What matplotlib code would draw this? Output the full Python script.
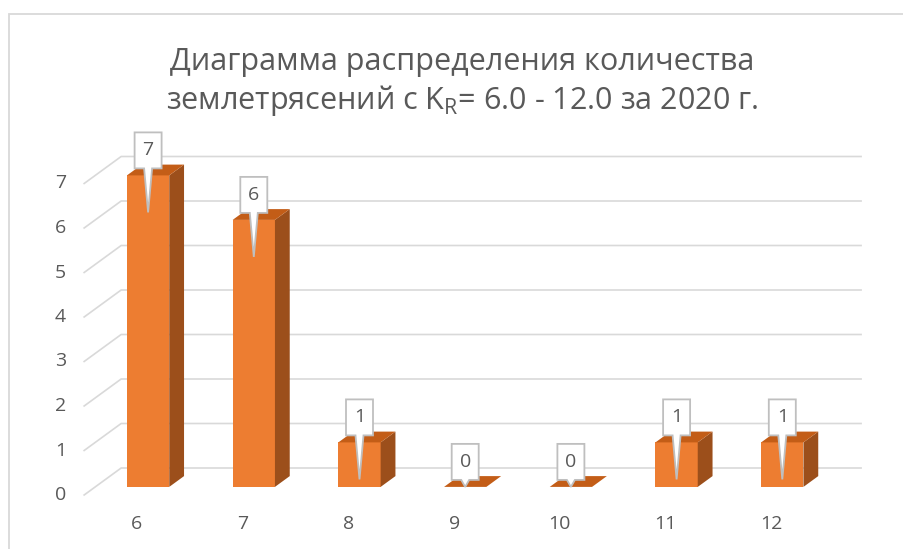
import matplotlib
matplotlib.use("Agg")
import matplotlib.pyplot as plt
from matplotlib.patches import Polygon, Rectangle

plt.rcParams['font.family'] = ['Open Sans', 'DejaVu Sans']
plt.rcParams['mathtext.fontset'] = 'custom'
plt.rcParams['mathtext.rm'] = 'Open Sans'

# Data
categories = ['6', '7', '8', '9', '10', '11', '12']
counts = [7, 6, 1, 0, 0, 1, 1]
y_ticks = [0, 1, 2, 3, 4, 5, 6, 7]
title_line1 = 'Диаграмма распределения количества'
title_line2 = r'землетрясений с $\mathrm{K_R}$= 6.0 - 12.0 за 2020 г.'

# Style
FRONT = '#ED7D31'
SIDE = '#9C4F1B'
TOP = '#C35D17'
GRID = '#D9D9D9'
TEXT = '#595959'

W, H = 904, 549
PX_X = 105.7   # pixels per category
PX_Y = 44.5    # pixels per unit
X0, Y0 = 137, 495  # pixel position of category 0 / value 0 (front plane)

DX = 37 / PX_X   # depth of the floor in x
DY = 27 / PX_Y   # depth of the floor in y
BAR_W = 0.40
BAR_D0, BAR_D1 = 0.3, 0.7  # bar position in depth


fig = plt.figure(figsize=(W / 100, H / 100), dpi=100)
ax = fig.add_axes([0, 0, 1, 1])
ax.set_xlim(-X0 / PX_X, (W - X0) / PX_X)
ax.set_ylim((Y0 - H) / PX_Y, Y0 / PX_Y)
ax.axis('off')

# chart frame
fig.patches.append(Rectangle((9 / W, -0.1), 1.2, 1.1 - 14 / H,
                             transform=fig.transFigure, fill=False,
                             edgecolor=GRID, linewidth=1.3))

# gridlines: front diagonal + back wall
left = -0.5
right = len(categories) - 0.5
for v in y_ticks:
    ax.plot([left, left + DX, right + DX], [v, v + DY, v + DY],
            color=GRID, linewidth=1.2, zorder=1)
    ax.text(left - 0.17, v, str(v), ha='right', va='center',
            fontsize=14, color=TEXT)

for i, c in enumerate(categories):
    ax.text(i, -0.65, c, ha='center', va='center', fontsize=14, color=TEXT)

# 3D-looking bars
for i, v in enumerate(counts):
    fx = i - BAR_W / 2 + BAR_D0 * DX
    fy = BAR_D0 * DY
    ddx = (BAR_D1 - BAR_D0) * DX
    ddy = (BAR_D1 - BAR_D0) * DY
    ax.add_patch(Rectangle((fx, fy), BAR_W, v, facecolor=FRONT,
                           edgecolor='none', zorder=3))
    ax.add_patch(Polygon([(fx + BAR_W, fy), (fx + BAR_W + ddx, fy + ddy),
                          (fx + BAR_W + ddx, fy + ddy + v), (fx + BAR_W, fy + v)],
                         closed=True, facecolor=SIDE, edgecolor='none', zorder=3))
    ax.add_patch(Polygon([(fx, fy + v), (fx + BAR_W, fy + v),
                          (fx + BAR_W + ddx, fy + ddy + v), (fx + ddx, fy + ddy + v)],
                         closed=True, facecolor=TOP, edgecolor='none', zorder=3))

# callout labels
bw = 27 / PX_X
bh = 36 / PX_Y
gap = 7 / PX_Y
drop = 37 / PX_Y
wedge = 4 / PX_X
for i, v in enumerate(counts):
    cx = i + BAR_D0 * DX
    top = v + BAR_D0 * DY
    b0 = top + gap
    tip = max(top - drop, BAR_D0 * DY)
    pts = [(cx - bw / 2, b0 + bh), (cx + bw / 2, b0 + bh), (cx + bw / 2, b0),
           (cx + wedge, b0), (cx, tip), (cx - wedge, b0), (cx - bw / 2, b0)]
    ax.add_patch(Polygon(pts, closed=True, facecolor='white', edgecolor='#BFBFBF',
                         linewidth=1.3, zorder=5))
    ax.text(cx, b0 + bh / 2, str(v), ha='center', va='center',
            fontsize=14, color=TEXT, zorder=6)

fig.text(462 / W, 1 - 70 / H, title_line1, ha='center', va='baseline',
         fontsize=22, color=TEXT)
fig.text(462 / W, 1 - 109 / H, title_line2, ha='center', va='baseline',
         fontsize=22, color=TEXT)

fig.savefig('out.png', dpi=100)
